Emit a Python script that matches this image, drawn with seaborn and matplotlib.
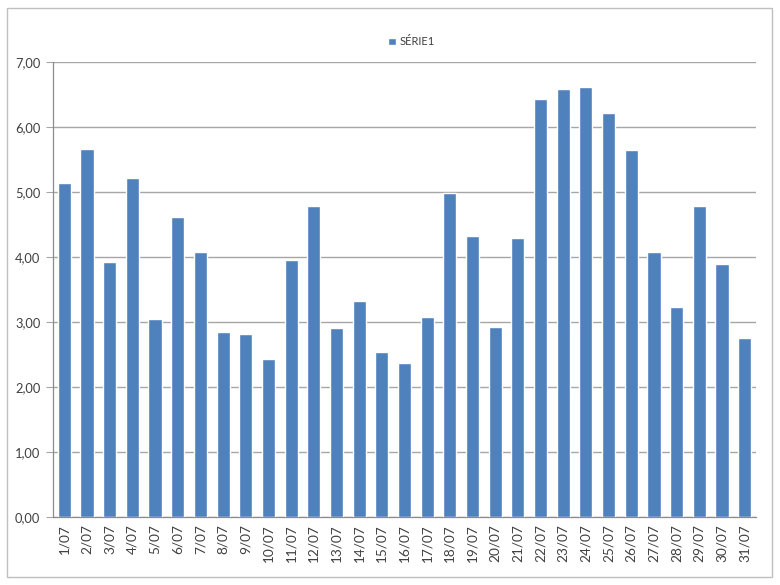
import matplotlib
matplotlib.use('Agg')
import matplotlib.pyplot as plt
import matplotlib.ticker as mticker
from matplotlib.patches import Rectangle
import seaborn as sns
import pandas as pd

# daily values for July
days = [f"{d}/07" for d in range(1, 32)]
values = [5.14, 5.66, 3.93, 5.22, 3.04, 4.61, 4.07, 2.84, 2.81, 2.43,
          3.95, 4.79, 2.91, 3.32, 2.54, 2.37, 3.07, 4.99, 4.32, 2.93,
          4.29, 6.43, 6.59, 6.62, 6.22, 5.65, 4.07, 3.23, 4.79, 3.90, 2.75]
series_name = "SÉRIE1"
y_ticks = [0, 1, 2, 3, 4, 5, 6, 7]

bar_color = "#4F81BD"
grid_color = "#A6A6A6"

sns.set_style("white")
plt.rcParams['font.family'] = ['Lato', 'DejaVu Sans']

df = pd.DataFrame({"day": days, "value": values})

fig = plt.figure(figsize=(7.8, 5.85), dpi=100)
ax = fig.add_axes([53 / 780, 1 - 517 / 585, 703 / 780, 455 / 585])

sns.barplot(data=df, x="day", y="value", color=bar_color, saturation=1,
            width=0.58, label=series_name, ax=ax, zorder=3)

ax.set_xlim(-0.5, len(days) - 0.5)
ax.set_ylim(0, 7)
ax.set_yticks(y_ticks)
ax.yaxis.set_major_formatter(mticker.FuncFormatter(lambda v, p: f"{v:.2f}".replace(".", ",")))
ax.yaxis.grid(True, color=grid_color, linewidth=1.0, zorder=0)
ax.set_xlabel("")
ax.set_ylabel("")

# category separators as tick marks below the axis
ax.set_xticks([i + 0.5 for i in range(-1, len(days))], minor=True)
ax.tick_params(axis="x", which="minor", length=5, color=grid_color, width=0.8, direction="out")
ax.tick_params(axis="x", which="major", length=0, labelsize=9.8, labelrotation=90,
               labelcolor="#404040", pad=5)
ax.tick_params(axis="y", which="major", length=5, color=grid_color, width=0.8,
               labelsize=9.3, labelcolor="#404040", pad=4, left=True)

for side in ["top", "right"]:
    ax.spines[side].set_visible(False)
for side in ["left", "bottom"]:
    ax.spines[side].set_color("#8C8C8C")
    ax.spines[side].set_linewidth(0.9)

ax.legend(loc="center", bbox_to_anchor=(0.51, 1.044), frameon=False,
          fontsize=8, handlelength=0.7, handleheight=0.7, handletextpad=0.3,
          labelcolor="#404040")

# chart area border
fig.patches.append(Rectangle((7 / 780, 1 - 577 / 585), 765 / 780, 569 / 585,
                             transform=fig.transFigure, fill=False,
                             edgecolor="#BFBFBF", linewidth=1.0))

fig.savefig("out.png", dpi=100)
